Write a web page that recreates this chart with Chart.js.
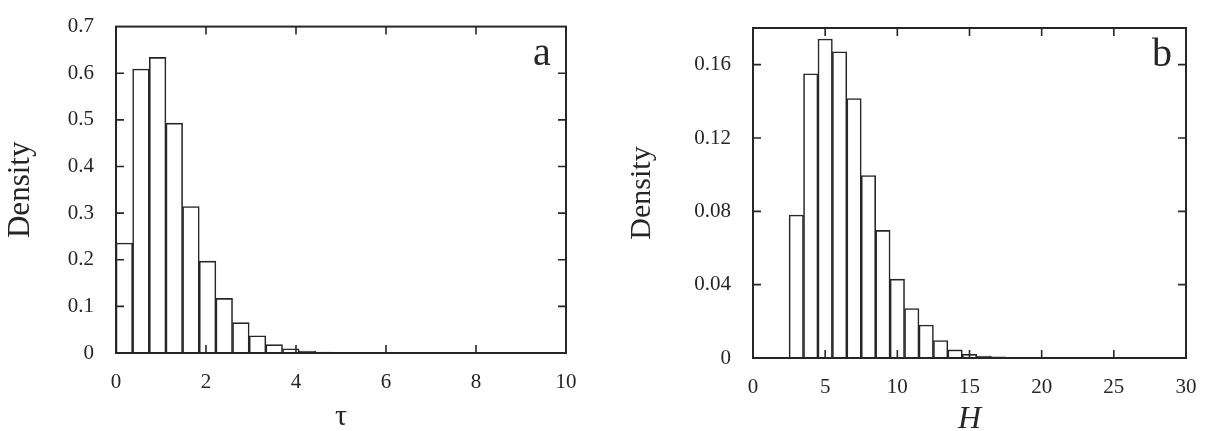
<!DOCTYPE html>
<html>
<head>
<meta charset="utf-8">
<script src="https://cdn.jsdelivr.net/npm/chart.js@4.4.1/dist/chart.umd.min.js"></script>
<style>
  html, body { margin: 0; padding: 0; background: #fff; }
  .wrap { position: relative; width: 1212px; height: 431px; }
  .panel { position: absolute; top: 0; height: 431px; }
  #panelA { left: 0; width: 600px; }
  #panelB { left: 606px; width: 606px; }
</style>
</head>
<body>
<div class="wrap">
  <div class="panel" id="panelA"><canvas id="chartA"></canvas></div>
  <div class="panel" id="panelB"><canvas id="chartB"></canvas></div>
</div>
<script>
// panel a: tau histogram (bin centres + density)
const tauCenters = [0.185, 0.555, 0.925, 1.295, 1.665, 2.035, 2.405, 2.775, 3.145, 3.515, 3.885, 4.255, 4.625, 4.995, 5.365, 5.735];
const tauDensity = [0.236, 0.609, 0.634, 0.493, 0.314, 0.197, 0.117, 0.065, 0.037, 0.018, 0.009, 0.004, 0.002, 0.001, 0.0007, 0.0004];
const tauTicks = [0, 2, 4, 6, 8, 10];

// panel b: H histogram
const hCenters = [3, 4, 5, 6, 7, 8, 9, 10, 11, 12, 13, 14, 15, 16, 17, 18];
const hDensity = [0.078, 0.155, 0.174, 0.167, 0.1415, 0.0995, 0.0696, 0.043, 0.027, 0.018, 0.0095, 0.0044, 0.002, 0.001, 0.0006, 0.0003];
const hTicks = [0, 5, 10, 15, 20, 25, 30];

const INK = '#262626';
const SERIF = '"Liberation Serif", "DejaVu Serif", serif';
const TICK = 8;

const fmt = v => String(+(+v).toFixed(2));

// box frame, inward ticks on all four sides, panel letter
const frameTicks = {
  id: 'frameTicks',
  afterDatasetsDraw(chart, args, opts) {
    const { ctx, chartArea: a, scales: { x, y } } = chart;
    ctx.save();
    ctx.strokeStyle = INK;
    ctx.lineWidth = 2;
    ctx.strokeRect(a.left, a.top, a.right - a.left, a.bottom - a.top);
    ctx.lineWidth = 1.6;
    ctx.beginPath();
    x.ticks.forEach(t => {
      const px = x.getPixelForValue(t.value);
      if (px <= a.left + 1 || px >= a.right - 1) return;
      ctx.moveTo(px, a.bottom); ctx.lineTo(px, a.bottom - TICK);
      ctx.moveTo(px, a.top); ctx.lineTo(px, a.top + TICK);
    });
    y.ticks.forEach(t => {
      const py = y.getPixelForValue(t.value);
      if (py >= a.bottom - 1 || py <= a.top + 1) return;
      ctx.moveTo(a.left, py); ctx.lineTo(a.left + TICK, py);
      ctx.moveTo(a.right, py); ctx.lineTo(a.right - TICK, py);
    });
    ctx.stroke();
    if (opts.letter) {
      ctx.fillStyle = INK;
      ctx.font = '40px ' + SERIF;
      ctx.textAlign = 'center';
      ctx.textBaseline = 'alphabetic';
      ctx.fillText(opts.letter, a.right + opts.dx, a.top + opts.dy);
    }
    ctx.restore();
  }
};

function makeChart(id, centers, values, cfg) {
  const ctx = document.getElementById(id).getContext('2d');
  return new Chart(ctx, {
    type: 'bar',
    data: {
      datasets: [{
        data: centers.map((c, i) => ({ x: c, y: values[i] })),
        backgroundColor: '#ffffff',
        borderColor: INK,
        borderWidth: 1.6,
        barPercentage: 1,
        categoryPercentage: 1
      }]
    },
    options: {
      responsive: true,
      maintainAspectRatio: false,
      animation: false,
      layout: { padding: { top: cfg.top, right: cfg.right, left: 0, bottom: 0 } },
      plugins: {
        legend: { display: false },
        tooltip: { enabled: false },
        frameTicks: cfg.letter
      },
      scales: {
        x: {
          type: 'linear',
          min: cfg.xTicks[0],
          max: cfg.xTicks[cfg.xTicks.length - 1],
          offset: false,
          grid: { display: false, offset: false },
          border: { display: false },
          afterBuildTicks: s => { s.ticks = cfg.xTicks.map(v => ({ value: v })); },
          afterFit: s => { s.height = cfg.xAxisH; },
          ticks: {
            color: INK,
            font: { family: SERIF, size: 21 },
            padding: 9,
            maxRotation: 0,
            callback: v => fmt(v)
          },
          title: {
            display: true,
            text: cfg.xTitle,
            color: INK,
            font: { family: SERIF, size: cfg.xTitleSize, style: cfg.xTitleStyle, lineHeight: 1 },
            padding: { top: 0, bottom: cfg.xTitlePad }
          }
        },
        y: {
          min: 0,
          max: cfg.yMax,
          grid: { display: false },
          border: { display: false },
          afterFit: s => { s.width = cfg.yAxisW; },
          ticks: {
            stepSize: cfg.yStep,
            includeBounds: false,
            color: INK,
            font: { family: SERIF, size: 21 },
            padding: 14,
            callback: v => fmt(v)
          },
          title: {
            display: true,
            text: 'Density',
            color: INK,
            font: { family: SERIF, size: cfg.yTitleSize, lineHeight: 1 },
            padding: { top: cfg.yTitlePad, bottom: 0 }
          }
        }
      }
    },
    plugins: [frameTicks]
  });
}

makeChart('chartA', tauCenters, tauDensity, {
  top: 23, right: 34, xAxisH: 78, yAxisW: 116,
  xTicks: tauTicks, yMax: 0.7, yStep: 0.1,
  xTitle: 'τ', xTitleSize: 30, xTitleStyle: 'normal', xTitlePad: -1,
  yTitleSize: 31, yTitlePad: 5,
  letter: { letter: 'a', dx: -24, dy: 38 }
});

makeChart('chartB', hCenters, hDensity, {
  top: 28, right: 26, xAxisH: 73, yAxisW: 147,
  xTicks: hTicks, yMax: 0.18, yStep: 0.04,
  xTitle: 'H', xTitleSize: 32, xTitleStyle: 'italic', xTitlePad: -5,
  yTitleSize: 30, yTitlePad: 21,
  letter: { letter: 'b', dx: -24, dy: 38 }
});
</script>
</body>
</html>
